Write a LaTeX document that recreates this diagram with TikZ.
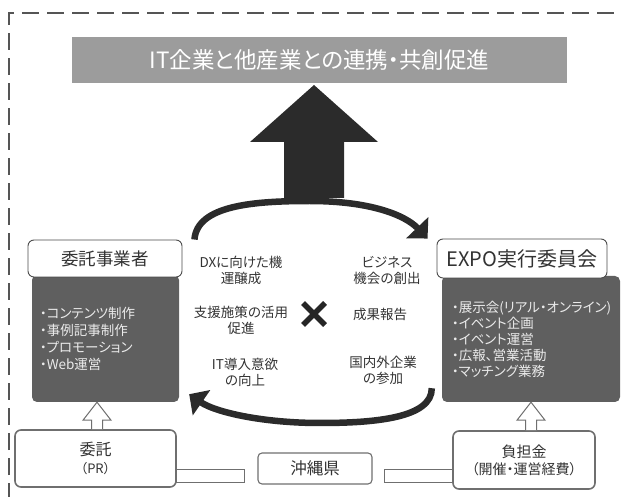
\documentclass[tikz,border=0pt]{standalone}
\usepackage{fontspec}
\setmainfont{Noto Sans CJK JP}[RawFeature=+palt]
\usepackage{tikz}
\usetikzlibrary{arrows.meta, positioning, calc}
\definecolor{framegray}{HTML}{555555}
\definecolor{titlegray}{HTML}{9C9C9C}
\definecolor{arrowdark}{HTML}{2B2B2B}
\definecolor{paneldark}{HTML}{5F5F5F}
\definecolor{boxline}{HTML}{6F6F6F}
\definecolor{textdark}{HTML}{333333}
\newcommand{\jpsize}[2]{\fontsize{#1}{#2}\selectfont}

\begin{document}
\begin{tikzpicture}[
    x=1pt, y=-1pt,
    dashframe/.style={draw=framegray, line width=2.8pt, dash pattern=on 17pt off 8pt},
    titlebox/.style={fill=titlegray, text=white, minimum width=495pt, minimum height=46pt, inner sep=0pt, font=\jpsize{22.5}{26}},
    headbox/.style={draw=black!70, fill=white, rounded corners=6pt, line width=0.9pt, inner sep=0pt, text=textdark},
    panel/.style={fill=paneldark, rounded corners=5pt, text=white!92!black, align=left, inner xsep=#1, inner ysep=0pt},
    midtext/.style={text=textdark, align=center, font=\jpsize{13.5}{16}},
    basebox/.style={draw=boxline, fill=white, rounded corners=6pt, line width=1.6pt, align=center, inner sep=0pt, text=textdark},
    hollow/.style={draw=boxline, fill=white, line width=1pt, line join=miter},
    strip/.style={draw=boxline, fill=white, line width=0.9pt},
    cyclearrow/.style={draw=arrowdark, line width=6.5pt, -{Triangle[width=30pt, length=15pt]}}
]
\useasboundingbox (0,0) rectangle (622,497);

% Outer dashed frame
\draw[dashframe] (9,500) -- (9,13) -- (625,13);

% Goal and big arrow
\node[titlebox] (title) at (319.5,60) {IT企業と他産業との連携・共創促進};
\fill[arrowdark] (314,85) -- (378,142) -- (344,142) -- (344,198) -- (284,198) -- (284,142) -- (250,142) -- cycle;

% Left side: contractor
\node[panel=8pt, minimum width=147pt, minimum height=127pt, text width=131pt, font=\jpsize{13.5}{17}] (lpanel) at (105.5,338.5)
    {・コンテンツ制作\\・事例記事制作\\・プロモーション\\・Web運営};
\node[headbox, minimum width=154pt, minimum height=37pt, font=\jpsize{17.5}{20}] (lhead) at (105,258.5) {委託事業者};

% Right side: EXPO committee
\node[panel=10pt, minimum width=178pt, minimum height=126pt, text width=158pt, font=\jpsize{13.5}{16}] (rpanel) at (531,339)
    {・展示会(リアル・オンライン)\\・イベント企画\\・イベント運営\\・広報、営業活動\\・マッチング業務};
\node[headbox, minimum width=170pt, minimum height=39pt, font=\jpsize{20}{24}] (rhead) at (522,258.5) {EXPO実行委員会};

% Middle texts
\node[midtext] (dxtext) at (241,270) {DXに向けた機\\運醸成};
\node[midtext] (shien) at (241,320) {支援施策の活用\\促進};
\node[midtext] (itup) at (245,372) {IT導入意欲\\の向上};
\node[midtext] (biz) at (387,270) {ビジネス\\機会の創出};
\node[midtext] (seika) at (380,314) {成果報告};
\node[midtext] (kokunai) at (383,370) {国内外企業\\の参加};
\draw[black!85, line width=5.5pt] (303,303) -- (325,325) (325,303) -- (303,325);

% Cycle arrows
\coordinate (topstart) at ($(lhead.north east)+(12,0)$);
\coordinate (topend) at ($(rhead.north west)+(-9,0)$);
\draw[cyclearrow] (topstart) .. controls (197,205) and (255,201) .. (310,201) .. controls (370,201) and (405,215) .. (topend);
\coordinate (botstart) at ($(rpanel.south west)+(-10,-14)$);
\coordinate (botend) at ($(lpanel.south east)+(10,-8)$);
\draw[cyclearrow] (botstart) .. controls (432,418) and (375,423) .. (320,423) .. controls (262,423) and (215,412) .. (botend);

% Bottom boxes
\node[basebox, minimum width=161pt, minimum height=57pt, font=\jpsize{16}{18}] (pr) at (95.5,458.5) {委託\\{\jpsize{13}{18}（PR）}};
\node[basebox, line width=1.1pt, rounded corners=4pt, minimum width=114pt, minimum height=31pt, font=\jpsize{16.5}{20}] (okinawa) at (315,468.5) {沖縄県};
\node[basebox, minimum width=142pt, minimum height=58pt, font=\jpsize{15}{17}] (fee) at (524,460) {負担金\\{\jpsize{14}{17}（開催・運営経費）}};

% Links to Okinawa
\draw[strip] ($(pr.east)+(0,10.5)$) rectangle ($(okinawa.west)+(-13,13.5)$);
\draw[strip] ($(okinawa.east)+(12,0.5)$) rectangle ($(fee.west)+(0,22)$);

% Hollow arrows up to the panels
\coordinate (lfoot) at ($(pr.north)+(1.5,0)$);
\coordinate (ltip) at (lfoot |- lpanel.south);
\draw[hollow] ($(lfoot)+(-5.5,0)$) -- ($(ltip)+(-5.5,18)$) -- ($(ltip)+(-14,18)$) -- (ltip) -- ($(ltip)+(14,18)$) -- ($(ltip)+(5.5,18)$) -- ($(lfoot)+(5.5,0)$);
\coordinate (rtip) at (rpanel.south);
\coordinate (rfoot) at (rtip |- fee.north);
\draw[hollow] ($(rfoot)+(-5.5,0)$) -- ($(rtip)+(-5.5,18)$) -- ($(rtip)+(-14,18)$) -- (rtip) -- ($(rtip)+(14,18)$) -- ($(rtip)+(5.5,18)$) -- ($(rfoot)+(5.5,0)$);

\end{tikzpicture}
\end{document}
